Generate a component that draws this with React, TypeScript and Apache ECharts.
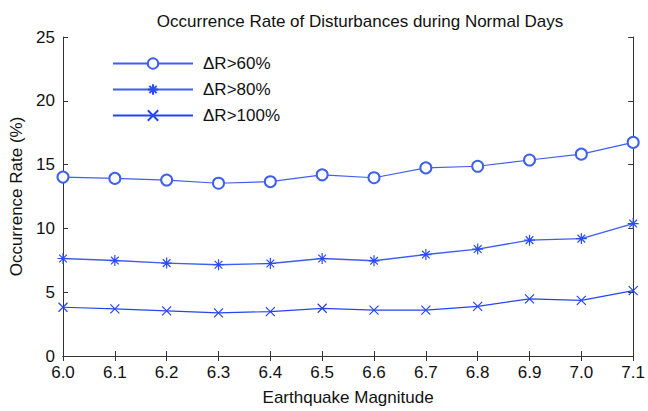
import React, { useEffect, useRef } from "react";
import * as echarts from "echarts";

const magnitudes = ["6.0", "6.1", "6.2", "6.3", "6.4", "6.5", "6.6", "6.7", "6.8", "6.9", "7.0", "7.1"];
const rate60 = [14.02, 13.92, 13.79, 13.54, 13.66, 14.2, 13.97, 14.74, 14.87, 15.36, 15.82, 16.74];
const rate80 = [7.64, 7.48, 7.28, 7.15, 7.25, 7.64, 7.46, 7.95, 8.38, 9.08, 9.2, 10.38];
const rate100 = [3.82, 3.69, 3.54, 3.38, 3.48, 3.74, 3.59, 3.59, 3.89, 4.48, 4.36, 5.12];
const seriesNames = ["\u0394R>60%", "\u0394R>80%", "\u0394R>100%"];

const asterisk = "path://M0,5L10,5M5,0L5,10M1.5,1.5L8.5,8.5M8.5,1.5L1.5,8.5";
const cross = "path://M0,0L10,10M10,0L0,10";

export default function App() {
  const ref = useRef<HTMLDivElement>(null);
  useEffect(() => {
    if (!ref.current) return;
    const chart = echarts.init(ref.current, null, { renderer: "svg" });
    const font = "'Liberation Sans', Arial, sans-serif";
    const axisLine = { show: true, lineStyle: { color: "#333", width: 1 } };
    const tick = { show: true, inside: true, length: 5, lineStyle: { color: "#333" } };
    chart.setOption({
      animation: false,
      backgroundColor: "#fff",
      textStyle: { fontFamily: font },
      title: {
        text: "Occurrence Rate of Disturbances during Normal Days",
        left: 355,
        textAlign: "center",
        top: 8,
        textStyle: { fontSize: 17, fontWeight: "normal", color: "#111", fontFamily: font },
      },
      legend: {
        orient: "vertical",
        left: 107,
        top: 50,
        itemWidth: 80,
        itemHeight: 13,
        itemGap: 9,
        textStyle: { fontSize: 17, color: "#111", fontFamily: font, padding: [0, 0, 0, 5] },
        data: seriesNames,
      },
      grid: { left: 62, right: 12, top: 37, bottom: 49, containLabel: false },
      xAxis: [
        {
          type: "category",
          data: magnitudes,
          boundaryGap: false,
          name: "Earthquake Magnitude",
          nameLocation: "middle",
          nameGap: 33,
          nameTextStyle: { fontSize: 17, color: "#111", fontFamily: font },
          axisLine,
          axisTick: tick,
          axisLabel: { fontSize: 17, color: "#111", margin: 8, fontFamily: font },
          splitLine: { show: false },
        },
        {
          type: "category",
          data: magnitudes,
          boundaryGap: false,
          position: "top",
          axisLine,
          axisTick: tick,
          axisLabel: { show: false },
          splitLine: { show: false },
        },
      ],
      yAxis: [
        {
          type: "value",
          min: 0,
          max: 25,
          interval: 5,
          name: "Occurrence Rate (%)",
          nameLocation: "middle",
          nameGap: 38,
          nameTextStyle: { fontSize: 17, color: "#111", fontFamily: font },
          axisLine,
          axisTick: tick,
          axisLabel: { fontSize: 17, color: "#111", margin: 8, fontFamily: font },
          splitLine: { show: false },
        },
        {
          type: "value",
          min: 0,
          max: 25,
          interval: 5,
          position: "right",
          axisLine,
          axisTick: tick,
          axisLabel: { show: false },
          splitLine: { show: false },
        },
      ],
      series: [
        {
          name: seriesNames[0],
          type: "line",
          data: rate60,
          color: "#3f5ff0",
          symbol: "emptyCircle",
          symbolSize: 11,
          lineStyle: { width: 1.2, color: "#3f5ff0" },
          itemStyle: { color: "#3f5ff0", borderColor: "#3f5ff0", borderWidth: 1.2 },
        },
        {
          name: seriesNames[1],
          type: "line",
          data: rate80,
          color: "#2a4cf2",
          symbol: asterisk,
          symbolSize: 11,
          lineStyle: { width: 1.4, color: "#3c5ef4" },
          itemStyle: { color: "#2a4cf2", borderColor: "#2a4cf2", borderWidth: 1.2 },
        },
        {
          name: seriesNames[2],
          type: "line",
          data: rate100,
          color: "#2445f0",
          symbol: cross,
          symbolSize: 9,
          lineStyle: { width: 1.2, color: "#2445f0" },
          itemStyle: { color: "#2445f0", borderColor: "#2445f0", borderWidth: 1.2 },
        },
      ],
    });
    return () => chart.dispose();
  }, []);
  return <div ref={ref} style={{ width: 648, height: 411, position: "absolute", left: 0, top: 0 }} />;
}
